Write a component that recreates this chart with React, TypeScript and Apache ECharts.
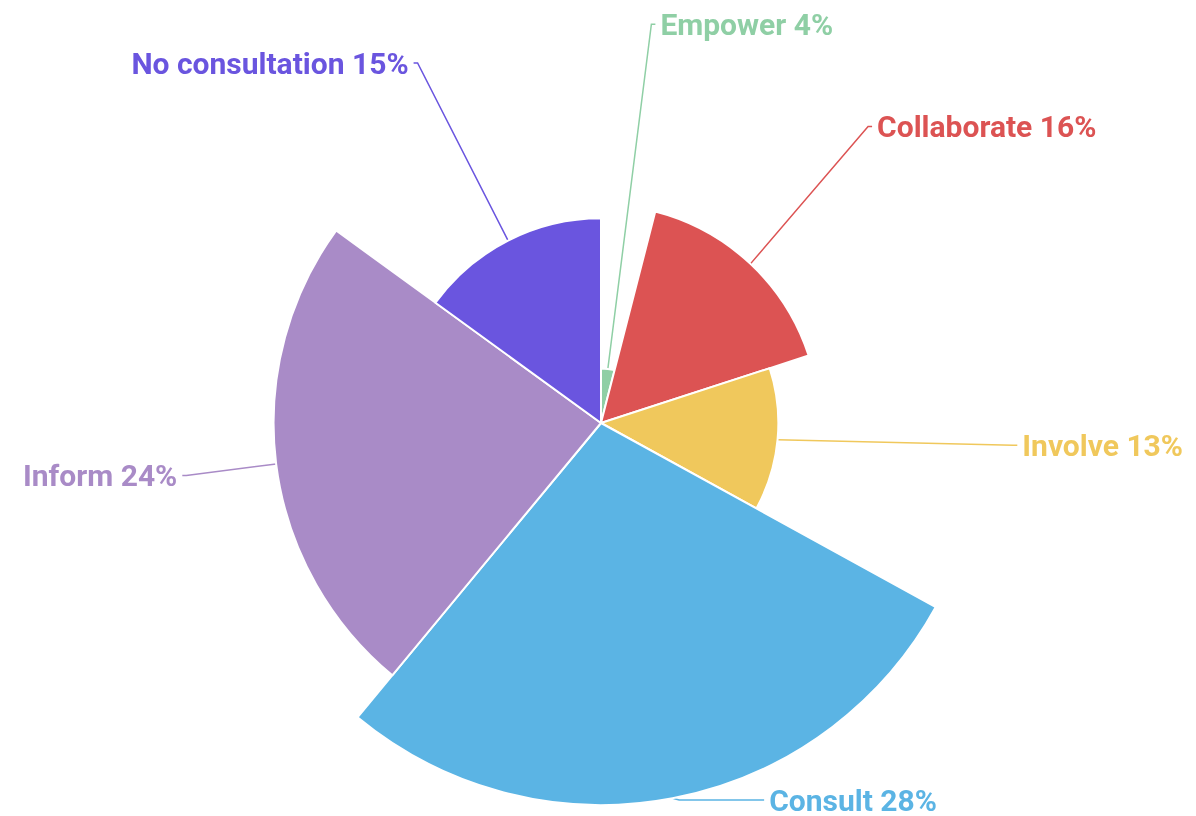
import React, { useEffect, useRef } from 'react';
import * as echarts from 'echarts';

const categories = ['Empower', 'Collaborate', 'Involve', 'Consult', 'Inform', 'No consultation'];
const values = [4, 16, 13, 28, 24, 15];
const colors = ['#8fcfa5', '#dc5353', '#f0c85c', '#5bb4e4', '#a98bc7', '#6a55df'];
const leadLengths = [20, 20, 36, 35, 36, 22];
const tailLengths = [4, 4, 4, 85, 4, 4];

export default function App() {
  const ref = useRef<HTMLDivElement>(null);
  useEffect(() => {
    const chart = echarts.init(ref.current!, undefined, { renderer: 'svg' });
    chart.setOption({
      animation: false,
      series: [
        {
          type: 'pie',
          roseType: 'radius',
          center: [601, 423],
          radius: [0, 382],
          startAngle: 90,
          clockwise: true,
          avoidLabelOverlap: true,
          itemStyle: { borderColor: '#fff', borderWidth: 2 },
          label: {
            formatter: '{b} {c}%',
            fontSize: 30,
            fontWeight: 'bold',
            fontFamily: 'Roboto',
          },
          labelLine: { length: 35, length2: 4, lineStyle: { width: 1.5 } },
          data: categories.map((name, i) => ({
            name,
            value: values[i],
            itemStyle: { color: colors[i] },
            label: { color: colors[i] },
            labelLine: { length: leadLengths[i], length2: tailLengths[i] },
          })),
        },
      ],
    });
    return () => chart.dispose();
  }, []);
  return <div ref={ref} style={{ position: 'fixed', left: 0, top: 0, width: 1196, height: 816 }} />;
}
